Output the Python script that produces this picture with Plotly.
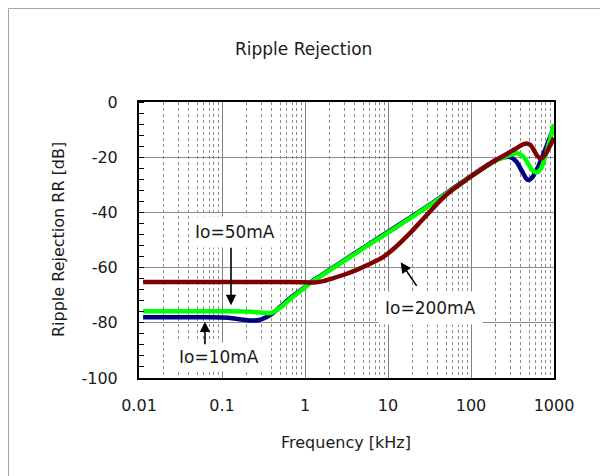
import plotly.graph_objects as go

# ---- data ----
f_10mA = [0.0112, 0.03, 0.07, 0.12, 0.17, 0.22, 0.28, 0.35, 0.41, 0.5, 0.7, 1.0, 1.15, 1.6, 2.5, 4, 6.5, 10, 18.7, 32.7, 50, 73.6, 100, 150, 200, 250, 290, 350, 410, 460, 490, 540, 617, 676, 743, 850, 1000]
rr_10mA = [-78, -78, -78, -78.2, -78.8, -79.2, -79.0, -77.8, -76.5, -74.3, -70.5, -67.0, -65.4, -62.6, -58.8, -54.8, -50.7, -47.1, -41.8, -37.0, -33.1, -29.6, -26.8, -23.2, -21.0, -20.0, -19.9, -21.5, -25.0, -27.6, -28.3, -27.5, -24.6, -22.0, -19.0, -14.5, -9.0]

f_50mA = [0.0112, 0.05, 0.1, 0.2, 0.29, 0.36, 0.41, 0.5, 0.7, 1.0, 1.15, 1.6, 2.5, 4, 6.5, 10, 18.7, 32.7, 50, 73.6, 100, 150, 200, 250, 300, 355, 420, 480, 540, 618, 700, 780, 880, 1000]
rr_50mA = [-75.8, -75.8, -75.8, -75.9, -76.3, -76.5, -76.2, -74.6, -70.8, -67.2, -65.6, -62.8, -59.0, -55.0, -50.9, -47.3, -42.0, -37.2, -33.3, -29.8, -27.0, -23.4, -21.2, -20.0, -19.1, -18.6, -19.6, -22.0, -24.5, -25.5, -24.0, -19.8, -14.5, -8.0]

f_200mA = [0.0112, 0.1, 0.5, 1.0, 1.3, 1.6, 2.2, 3, 4.2, 6, 8.7, 12, 14.6, 18.7, 25, 32.7, 45, 60, 73.6, 100, 150, 200, 250, 300, 360, 420, 470, 520, 570, 620, 670, 710, 780, 880, 1000]
rr_200mA = [-65.2, -65.2, -65.2, -65.3, -65.4, -65.0, -63.8, -62.5, -60.8, -58.7, -56.2, -52.9, -50.5, -47.3, -43.2, -39.4, -35.0, -31.8, -29.9, -27.0, -23.4, -21.0, -19.4, -18.0, -16.6, -15.4, -15.0, -15.6, -17.3, -19.3, -20.3, -20.4, -19.2, -16.3, -13.0]

x_tickvals = [0.01, 0.1, 1, 10, 100, 1000]
x_ticktext = ["0.01", "0.1", "1", "10", "100", "1000"]
y_tickvals = [0, -20, -40, -60, -80, -100]
y_ticktext = ["0", "-20", "-40", "-60", "-80", "-100"]

FONT = "DejaVu Sans"

fig = go.Figure()
fig.add_trace(go.Scatter(x=f_10mA, y=rr_10mA, mode="lines", name="Io=10mA",
                         line=dict(color="#000080", width=4.5, shape="spline", smoothing=0.8)))
fig.add_trace(go.Scatter(x=f_50mA, y=rr_50mA, mode="lines", name="Io=50mA",
                         line=dict(color="#00FF00", width=4.5, shape="spline", smoothing=0.8)))
fig.add_trace(go.Scatter(x=f_200mA, y=rr_200mA, mode="lines", name="Io=200mA",
                         line=dict(color="#800000", width=4.5, shape="spline", smoothing=0.8)))

minor_x = [m * 10 ** e for e in range(-2, 3) for m in range(2, 10)]

fig.update_xaxes(
    type="log", range=[-2, 3],
    tickvals=x_tickvals, ticktext=x_ticktext,
    tickfont=dict(family=FONT, size=16, color="#1a1a1a"),
    ticks="", ticklabelstandoff=12,
    showgrid=True, gridcolor="#7f7f7f", gridwidth=1,
    minor=dict(tickvals=minor_x, showgrid=True, gridcolor="#8c8c8c", griddash="3px,3px", gridwidth=1, ticks=""),
    showline=True, linecolor="black", linewidth=2, mirror=True, zeroline=False,
)
fig.update_yaxes(
    range=[-100, 0],
    tickvals=y_tickvals, ticktext=y_ticktext,
    tickfont=dict(family=FONT, size=16, color="#1a1a1a"),
    ticks="", ticklabelstandoff=16,
    showgrid=True, gridcolor="#8c8c8c", gridwidth=1,
    minor=dict(dtick=4, ticks="inside", ticklen=5, tickcolor="black", tickwidth=1, showgrid=False),
    showline=True, linecolor="black", linewidth=2, mirror=True, zeroline=False,
)

annos = []
# title and axis titles
annos.append(dict(text="Ripple Rejection", xref="paper", yref="paper", x=(303 - 139) / 415, y=(378 - 49) / 276,
                  showarrow=False, font=dict(family=FONT, size=17, color="#1a1a1a"), xanchor="center", yanchor="middle"))
annos.append(dict(text="Frequency [kHz]", xref="paper", yref="paper", x=(346 - 139) / 415, y=(378 - 442) / 276,
                  showarrow=False, font=dict(family=FONT, size=16, color="#1a1a1a"), xanchor="center", yanchor="middle"))
annos.append(dict(text="Ripple Rejection RR [dB]", xref="paper", yref="paper", x=(58 - 139) / 415, y=0.5,
                  textangle=-90, showarrow=False, font=dict(family=FONT, size=16, color="#1a1a1a"),
                  xanchor="center", yanchor="middle"))
# labels with white boxes
lab_font = dict(family=FONT, size=17, color="#1a1a1a")
annos.append(dict(text="Io=50mA", x=-0.847, y=-47.2, showarrow=False, font=lab_font, bgcolor="white", borderpad=5))
annos.append(dict(text="Io=10mA", x=-1.036, y=-92.3, showarrow=False, font=lab_font, bgcolor="white", borderpad=4))
annos.append(dict(text="Io=200mA", x=1.512, y=-74.5, showarrow=False, font=lab_font, bgcolor="white", borderpad=6))
# arrows
arr = dict(text="", showarrow=True, arrowhead=2, arrowsize=1.3, arrowwidth=1.6, arrowcolor="black", standoff=0, startstandoff=0)
annos.append(dict(arr, x=-0.8916, y=-73.6, ax=0, ay=-59))
annos.append(dict(arr, x=-1.205, y=-79.6, ax=0, ay=24))
annos.append(dict(arr, x=1.153, y=-58.1, ax=17, ay=25))

# page has an 8px body margin: the figure starts at page (8, 8)
fig.update_layout(
    width=600, height=468,
    margin=dict(l=131, r=54, t=94, b=98),
    paper_bgcolor="white", plot_bgcolor="white",
    showlegend=False,
    annotations=annos,
    shapes=[dict(type="rect", xref="paper", yref="paper",
                 x0=(8.5 - 139) / 415, x1=(620 - 139) / 415,
                 y0=(378 - 490) / 276, y1=(378 - 8.5) / 276,
                 line=dict(color="#a6a6a6", width=1), layer="below")],
)

fig.write_html("out.html")
